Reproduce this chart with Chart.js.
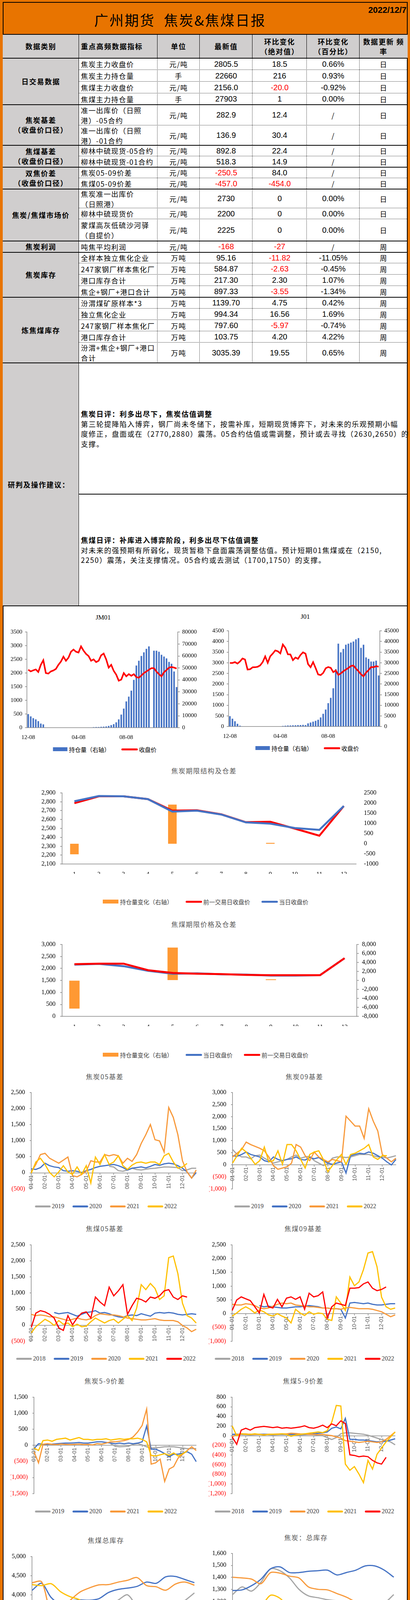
<!DOCTYPE html>
<html><head><meta charset="utf-8">
<script src="https://cdn.jsdelivr.net/npm/chart.js@4.4.1/dist/chart.umd.min.js"></script>
<style>
html,body{margin:0;padding:0;background:#fff;}
#page{position:relative;width:1049px;height:4562px;background:#E87400;overflow:hidden;}
#page div{box-sizing:border-box;}
</style></head><body><div id="page"></div>
<script>
// ================= DATA =================
const reportDate = '2022/12/7';
const indicators = ['焦炭主力收盘价','焦炭主力持仓量','焦煤主力收盘价','焦煤主力持仓量','准一出库价（日照<br>港）-05合约','准一出库价（日照<br>港）-01合约','柳林中硫现货-05合约','柳林中硫现货-01合约','焦炭05-09价差','焦煤05-09价差','焦炭准一出库价<br>（日照港）','柳林中硫现货价','蒙煤高灰低硫沙河驿<br>（自提价）','吨焦平均利润','全样本独立焦化企业','247家钢厂样本焦化厂','港口库存合计','焦企+钢厂+港口合计','汾渭煤矿原样本*3','独立焦化企业','247家钢厂样本焦化厂','港口库存合计','汾渭+焦企+钢厂+港口<br>合计'];
const units = ['元/吨','手','元/吨','手','元/吨','元/吨','元/吨','元/吨','元/吨','元/吨','元/吨','元/吨','元/吨','元/吨','万吨','万吨','万吨','万吨','万吨','万吨','万吨','万吨','万吨'];
const latest = ['2805.5','22660','2156.0','27903','282.9','136.9','892.8','518.3','-250.5','-457.0','2730','2200','2225','-168','95.16','584.87','217.30','897.33','1139.70','994.34','797.60','103.75','3035.39'];
const absChange = ['18.5','216','-20.0','1','12.4','30.4','22.4','14.9','84.0','-454.0','0','0','0','-27','-11.82','-2.63','2.30','-3.55','4.75','16.56','-5.97','4.20','19.55'];
const pctChange = ['0.66%','0.93%','-0.92%','0.00%','/','/','/','/','/','/','0.00%','0.00%','0.00%','/','-11.05%','-0.45%','1.07%','-1.34%','0.42%','1.69%','-0.74%','4.22%','0.65%'];
const freqs = ['日','日','日','日','日','日','日','日','日','日','日','日','日','周','周','周','周','周','周','周','周','周','周'];
const groupNames = ['日交易数据','焦炭基差<br>（收盘价口径）','焦煤基差<br>（收盘价口径）','双焦价差<br>（收盘价口径）','焦炭/焦煤市场价','焦炭利润','焦炭库存','炼焦煤库存'];
const groupRows = [[0,4],[4,6],[6,8],[8,10],[10,13],[13,14],[14,18],[18,23]];

// JM01 / J01 (left axis price, right axis open interest)
const jmTickLabels = {0:'12-08',20:'04-08',39:'08-08'};
const jm01Price = [2119,2060,2100,2133,2040,2300,2470,2000,1980,2060, 2095,2150,2300,2420,2600,2450,2560,2780,2860,2780, 2750,2976,2820,2700,2620,2450,2500,2400,2450,2650, 2714,2500,2200,2300,2080,1940,1720,1760,2000,1880, 1960,1900,1960,1850,1830,1910,2000,2060,2120,2180, 2180,2050,1960,1880,2030,2110,2200,2220,2200,2167];
const jm01OI = [11400,9500,8000,7000,5500,3500,2800,0,0,0, 0,0,0,0,0,0,0,0,0,0, 0,0,0,0,300,300,500,600,600,800, 900,1100,1500,2200,3000,4500,7000,11000,16000,22000, 26000,31000,40000,52000,56000,60000,63000,66000,68000,0, 64400,64400,63500,61000,59500,58000,55000,53500,47000,34000];
const j01Price = [2988,2990,3030,2960,3060,3200,3150,2680,2694,2786, 2790,2810,2877,3030,3300,3000,3306,3430,3580,3540, 3440,3857,3700,3398,3390,3122,3245,3184,3367,3490, 3428,2939,2790,3030,2750,2450,2420,2520,2740,2800, 2760,2560,2640,2430,2500,2600,2680,2755,2847,2870, 2724,2600,2460,2360,2540,2650,2800,2790,2840,2816];
const j01OI = [4900,3700,2500,1300,400,100,0,0,0,0, 0,0,0,0,0,0,0,0,0,0, 0,300,400,500,500,600,600,700,700,800, 700,1500,1900,2300,2700,3200,4300,6000,8000,11000, 13500,18000,27000,39000,34900,36500,38500,39000,39500,40000, 41000,41600,37000,38500,32500,31800,30600,30600,31000,24000];

// Term structure (contract month 1..12)
const termMonths = ['1','2','3','4','5','6','7','8','9','10','11','12'];
const cokePrev = [2784,2861,2861,2829,2700,2704,2658,2570,2575,2498,2418,2752];
const cokeCurr = [2805,2864,2861,2829,2689,2700,2656,2568,2554,2505,2484,2752];
const cokeOIChg = [-520,0,0,0,1920,0,0,0,40,0,0,0];
const coalCurr = [2156,2187,2092,1898,1778,1793,1751,1741,1699,1699,1715,2423];
const coalPrev = [2176,2197,2197,1925,1809,1778,1760,1730,1715,1715,1715,2423];
const coalOIChg = [-6270,0,0,0,7300,0,0,0,250,0,0,0];

// Seasonal daily charts: points on the 1st, 10th, 20th of each month + 12-31
const monthTicks = ['01-01','02-01','03-01','04-01','05-01','06-01','07-01','08-01','09-01','10-01','11-01','12-01'];
const N=null;
const c05_2019 = [N,N,N,N,N,N,N,N,N,N,N,N,N,N,N,N,N, 200,180,65,46, 85,140,100, 85,110,130, 140,160,180, 180,170,160, 65,90,140, 140];
const c05_2020 = [123,104,160, 297,220,181, 162,65,46, 65,46,8, 65,104,162, 200,220,239, 258,220,162, 85,143,162, 181,150,200, 258,230,277, 297,277,220, 143,27,-166, 8];
const c05_2021 = [27,258,566, 605,451,374, 297,393,489, -89,-127,-50, 46,374,335, 335,566,528, 566,528,297, 451,354,566, 913,1183,1500, 1029,990,643, 2031,1722,1183, 374,27,-166, 85];
const c05_2022 = [-12,335,451, 258,8,-127, 27,220,27, -50,181,-50, 220,-320,489, 258,566,258, 335,528,220, 104,239,316, 335,297,335, 335,258,528, 605,335,143, 181,290,N, N];

const c09_2019 = [631,426,323, 323,246,374, 400,272,169, 67,118,170, 220,323,400, 272,323,349, 169,67,-36, 41,272,323, 323,300,323, 374,426,426, 426,374,323, 323,280,323, 374];
const c09_2020 = [374,349,426, 528,426,374, 323,169,118, 323,220,169, 220,246,323, 220,195,297, 246,300,169, 67,15,67, 118,-344,374, 426,477,451, 528,477,374, 272,118,-10, 220];
const c09_2021 = [323,477,631, 938,836,759, 682,579,323, -36,-190,-138, -87,67,836, 733,374,169, 528,320,220, 118,220,169, 118,2015,1810, 1605,1605,1092, 2323,1810,1400, 426,272,118, 272];
const c09_2022 = [67,374,682, 528,272,15, 169,733,118, 169,579,15, 836,836,579, 220,-138,426, 528,579,220, -292,-36,220, 426,15,426, 477,579,682, 836,323,220, 374,374,N, N];

const m05_2018 = [];
const m05_2019 = [N,N,N, N,N,392, 354,373,392, 335,277,335, 392,412,450, 373,392,354, 296,258,238, 296,315,296, 354,315,277, 373,392,373, 392,373,335, 315,335,354, 335];
const m05_2020 = [335,296,315, 296,258,258, 219,181,142, 181,219,181, 162,200,296, 354,335,315, 315,296,258, 219,200,181, 162,162,181, 200,162,142, 142,142,104, -12,-88,-204, -127];
const m05_2021 = [-242,-50,65, 181,104,-12, 142,27,65, -50,27,-50, -31,104,219, 142,65,142, 181,65,181, 296,142,527, 1258,1104,1296, 1142,796,911, 2100,2150,1600, 681,296,219, 65];
const m05_2022 = [-69,373,450, 412,335,219, -88,-165,296, 8,219,373, 412,219,873, 719,604,1181, 911,1065,1258, 335,604,835, 796,719,873, 835,911,1065, 1104,873,796, 911,873,N, N];

const m09_2018 = [];
const m09_2019 = [N,N,N, N,N,N, 293,248,270, 248,225,203, 203,225,248, 248,270,293, 270,250,203, 203,180,180, 158,-158,383, 405,383,360, 383,338,315, 315,338,360, 360];
const m09_2020 = [338,315,315, 360,338,293, 203,180,203, 270,338,383, 360,383,315, 293,270,248, 248,225,203, 203,180,180, 158,203,225, 203,180,180, 180,158,113, 68,-23,-113, -45];
const m09_2021 = [-90,23,158, 248,158,23, 135,68,-45, -90,0,-90, -158,-338,158, 23,-68,68, -23,23,0, -203,-248,608, 383,113,1328, 1013,1148,1598, 2200,2250,1700, 600,248,158, 203];
const m09_2022 = [113,495,608, 540,473,248, 23,698,248, 203,518,248, 563,608,518, 608,158,743, 608,653,788, -158,248,383, 338,293,923, 923,945,1080, 1148,923,833, 878,968,N, N];

const s59c_2019 = [N,N,N,N,N,N,N,N,N,N,N,N,N,N,N,N,N, 50, -27,-46,-38, -27,31,50, 12,-46,-85, -77,-65,-46, -46,-46,-65, -85,-104,-104, -104];
const s59c_2020 = [-104,50,31, 31,38,50, 62,69,69, 77,88,69, 69,88,108, 108,88,69, 50,69,50, 69,50,69, 108,600,-123, -123,-181,-258, -354,-277,-277, -238,-200,-277, -508];
const s59c_2021 = [-200,-546,31, 50,31,23, 38,31,23, 31,38,23, 31,12,50, 38,69,108, 108,127,146, 185,262,415, 620,1127,-585, -546,-431,-1123, -738,-662,-392, -277,-162,-46, -162];
const s59c_2022 = [-85,-162,146, 165,127,185, 204,223,165, 204,242,185, 185,165,185, 185,204,165, 185,204,185, 204,204,223, 185,108,-315, -335,-296,-258, -315,-238,-335, -258,-181,N, N];

const s59m_2018 = [20,30,25, 20,15,20, 25,30,20, 15,20,25, 20,15,10, 15,20,25, 20,10,0, -40,-80,-40, 40,60,60, 50,40,30, 10,-20,-50, -80,-100,-130, -190];
const s59m_2019 = [26,30,30, 26,30,30, 26,30,26, 30,26,30, 26,30,26, 30,26,30, 40,50,60, 77,154,180, 141,359,-77, -77,-90,-90, -103,-115,-128, -128,-115,-90, -64];
const s59m_2020 = [-26,26,38, 38,26,31, 26,20,26, 31,36,38, 38,51,45, 38,36,26, 26,20,26, 13,0,-26, -51,-103,-115, -128,-141,-128, -115,-128,-141, -128,-77,0, 77];
const s59m_2021 = [205,0,38, 26,26,38, 26,13,26, 31,26,38, 26,-13,13, 26,38,51, 64,77,64, 103,282,628, 615,-590,-718, -641,-795,-974, -513,-692,-385, -256,-128,-26, 77];
const s59m_2022 = [-26,-179,115, 154,115,167, 180,192,180, 167,180,154, 167,154,167, 180,205,167, 154,180,218, 167,244,205, 308,250,-397, -410,-436,-423, -436,-513,-564, -590,-449,N, N];

// Weekly inventory charts (weeks 1,4,...,52)
const weekSample = [1,4,7,10,13,16,19,22,25,28,31,34,37,40,43,46,49,52];
const coalInv2018 = [3583,3767,3633,3420,3650,3667,3700,3600,3733,3860,4000,3700,3583,3640,3660,3680,3850,4050];
const coalInv2019 = [4117,4300,3930,3760,3840,3867,3860,3900,4060,4140,4175,4220,4333,4300,4470,4480,4400,4317];
const coalInv2020 = [4317,4340,3550,3620,3860,4070,4180,4260,4267,4330,4380,4450,4240,4210,4120,4280,4333,4250];
const coalInv2021 = [4267,4240,4290,4080,3950,3867,3633,3600,3700,3420,3300,3060,3000,3167,3300,3550,3500,3433];
const coalInv2022 = [3500,3480,3533,2920,2850,2780,2950,2900,2920,3000,3217,3200,3090,3100,2960,3010,3030,N];
const cokeInv2018 = [1256,1320,1285,1360,1470,1455,1395,1300,1245,1230,1213,1205,1200,1180,1160,1165,1185,1256];
const cokeInv2019 = [1290,1295,1330,1385,1471,1487,1440,1440,1450,1455,1460,1420,1440,1460,1495,1495,1460,1401];
const cokeInv2020 = [1401,1395,1385,1347,1439,1435,1410,1395,1320,1300,1295,1265,1235,1195,1175,1170,1170,1111];
const cokeInv2021 = [1111,1050,1070,1150,1250,1225,1140,1055,1050,1030,985,941,930,970,975,1015,980,976];
const cokeInv2022 = [1009,1025,1092,1080,1057,1055,1007,1012,966,944,966,966,1010,1035,970,937,900,N];

// ================= LAYOUT / STYLE =================
const page = document.getElementById('page');
const CJK = '"Noto Sans CJK SC","Noto Sans",sans-serif';
const MIX = '"Liberation Sans Narrow","Noto Sans CJK SC",sans-serif';
const NUM = '"Liberation Sans",Arial,sans-serif';
const SERIF = '"Liberation Serif","Times New Roman",serif';
const SANS = '"Liberation Sans",Arial,sans-serif';
const AX = '#868686';
const C = {gray:'#A5A5A5', blue:'#4472C4', orange:'#F8993A', gold:'#FFC000', red:'#FF0000', bar:'#FF9933'};

function div(x,y,w,h,css,html){const d=document.createElement('div');d.style.cssText=`position:absolute;left:${x}px;top:${y}px;width:${w}px;height:${h}px;${css||''}`;if(html!=null)d.innerHTML=html;page.appendChild(d);return d;}
function hline(x1,x2,y,st){div(x1,y-1,x2-x1,2,`border-top:${st||'2px solid #000'}`);}
function vline(x,y1,y2,st){div(x-1,y1,2,y2-y1,`border-left:${st||'1.5px solid #000'}`);}
function cell(x1,x2,y1,y2,html,css,just){div(x1,y1,x2-x1,y2-y1,`display:flex;align-items:center;justify-content:${just||'center'};text-align:${just==='flex-start'?'left':'center'};white-space:nowrap;${css||''}`,html);}

// frame
div(7,5,1036,4551,'background:#fff;border:2px solid #000');
div(7,5,1036,84,'background:#E87400;border:2px solid #000');
div(241,27,560,46,`font:36px ${CJK};letter-spacing:3px;line-height:46px;color:#000;white-space:nowrap`,'广州期货&nbsp;&nbsp;焦炭&amp;焦煤日报');
div(880,13,160,26,`font:bold 22px ${NUM};line-height:26px;text-align:right;color:#000`,reportDate);

// table backgrounds
div(7,88,1036,61,'background:#D0CECE');
div(7,149,195,1402,'background:#D0CECE');

const rowEdges=[149,179,209,239,268,321,372,400,428,456,484,533,561,617,646,674,703,732,761,790,819,848,877,929];
const colX=[7,202,403,511,646,785,920,1043];
const groupEdgeIdx = new Set([0,4,6,8,10,13,14,18,23]);
hline(7,1043,88);
rowEdges.forEach((y,i)=>{ if(groupEdgeIdx.has(i)) hline(7,1043,y); else hline(202,1043,y,'1px dotted #000'); });
hline(7,1043,1551); hline(202,1043,1265);
vline(202,88,1551);
for(let k=2;k<7;k++){ vline(colX[k],88,149,'1px solid #000'); vline(colX[k],149,929,'1px dotted #000'); }

const HB = `font:bold 18px ${CJK};letter-spacing:1.8px;line-height:25px;color:#000`;
cell(7,202,88,149,'数据类别',HB);
cell(202,403,88,149,'重点高频数据指标',HB+';padding-left:5px','flex-start');
cell(403,511,88,149,'单位',HB);
cell(511,646,88,149,'最新值',HB);
cell(646,785,88,149,'环比变化<br>（绝对值）',HB);
cell(785,920,88,149,'环比变化<br>（百分比）',HB);
cell(920,1043,88,149,'数据更新&nbsp;频<br>率',HB);

const TB = `font:18px ${MIX};letter-spacing:1.4px;line-height:26px;color:#000`;
const TN = `font:20px ${NUM};color:#000`;
for(let i=0;i<indicators.length;i++){
  const y1=rowEdges[i], y2=rowEdges[i+1];
  cell(202,403,y1,y2,indicators[i],TB+';padding-left:5px','flex-start');
  cell(403,511,y1,y2,units[i],TB);
  cell(511,646,y1,y2,latest[i],TN+(latest[i].startsWith('-')?';color:#FF0000':''));
  cell(646,785,y1,y2,absChange[i],TN+(absChange[i].startsWith('-')?';color:#FF0000':''));
  cell(785,920,y1,y2,pctChange[i],pctChange[i]==='/'?TB:TN);
  cell(920,1043,y1,y2,freqs[i],TB);
}
groupNames.forEach((g,k)=>{ cell(7,202,rowEdges[groupRows[k][0]],rowEdges[groupRows[k][1]],g,HB+';line-height:25px'); });
cell(7,202,929,1551,'研判及操作建议：',HB+';padding-left:13px','flex-start');

const CM = `font:18px ${MIX};letter-spacing:1.8px;line-height:25.6px;white-space:nowrap;color:#000`;
div(207,1047,830,110,CM,'<b>焦炭日评：利多出尽下，焦炭估值调整</b><br>第三轮提降陷入博弈，钢厂尚未冬储下，按需补库，短期现货博弈下，对未来的乐观预期小幅<br>度修正，盘面或在（2770,2880）震荡。05合约估值或需调整，预计或去寻找（2630,2650）的<br>支撑。');
div(207,1370,830,90,CM,'<b>焦煤日评：补库进入博弈阶段，利多出尽下估值调整</b><br>对未来的强预期有所弱化，现货暂稳下盘面震荡调整估值。预计短期01焦煤或在（2150,<br>2250）震荡，关注支撑情况。05合约或去测试（1700,1750）的支撑。');

hline(7,1043,4323); hline(7,1043,4441);
div(12,4344,1030,80,`font:bold 19px ${MIX};letter-spacing:2.8px;line-height:25.5px;white-space:nowrap;color:#000`,'免责声明：本报告的信息均来源于公开资料，我公司对这些信息的准确性和完整性不作任何保证，也不保证所包<br>含的信息和建议不会发生任何变更。我们已力求报告内容的客观、公正，但文中的观点、结论和建议仅供参考，<br>报告中的信息或意见并不构成所述品种的操作依据，投资者据此做出的任何投资决策与本公司和作者无关。');
div(12,4447,1030,110,`font:18px ${MIX};letter-spacing:1.6px;line-height:26px;white-space:nowrap;color:#000`,'投资咨询业务资格：证监许可【2012】1497号<br>分析师：许克元 期货从业资格：F3022666&nbsp;&nbsp; 投资咨询资格：Z0013612<br>联系人：吴宇祥 期货从业资格：F03087345<br>联系方式：020-22139859 020-22139817');

// ================= CHART HELPERS =================
function title(cx,cy,text,css){div(cx-200,cy-13,400,26,`text-align:center;line-height:26px;white-space:nowrap;${css}`,text);}
function legend(cx,cy,items){
  const d=document.createElement('div');
  d.style.cssText=`position:absolute;left:${cx}px;top:${cy-12}px;height:24px;transform:translateX(-50%);display:flex;align-items:center;white-space:nowrap;`;
  items.forEach((it,k)=>{
    const sw=document.createElement('span');
    sw.style.cssText = it.box ? `display:inline-block;width:${it.w||38}px;height:10px;background:${it.color};margin-right:4px;` : `display:inline-block;width:${it.w||40}px;height:5px;border-radius:3px;background:${it.color};margin-right:3px;`;
    const t=document.createElement('span'); t.innerHTML=it.text;
    t.style.cssText=`font:${it.font};color:${it.tc||'#404040'};margin-right:${k<items.length-1?(it.gap||21):0}px;`;
    d.append(sw,t);
  });
  page.appendChild(d);
}
function mkChart(box,plot,ax,type,data,scales){
  const c=document.createElement('canvas'); c.width=box.w; c.height=box.h;
  c.style.cssText=`position:absolute;left:${box.x}px;top:${box.y}px;width:${box.w}px;height:${box.h}px;`;
  page.appendChild(c);
  const L=ax.L||0,R=ax.R||0,B=ax.B||0;
  return new Chart(c,{type,data,options:{responsive:false,maintainAspectRatio:false,animation:false,
    layout:{padding:{left:plot.l-box.x-L,right:box.x+box.w-plot.r-R,top:plot.t-box.y,bottom:box.y+box.h-plot.b-B}},
    plugins:{legend:{display:false},tooltip:{enabled:false}},scales}});
}
const fmtC = v => v<0 ? '('+Math.abs(v).toLocaleString('en-US')+')' : v.toLocaleString('en-US');
function leftY(min,max,step,L,opt){opt=opt||{};return {position:'left',min,max,afterFit:s=>{s.width=L;},
  ticks:{stepSize:step,autoSkip:false,font:{family:SERIF,size:opt.fs||16},color:opt.color||'#000',padding:opt.pad||10,callback:opt.cb||(v=>v.toLocaleString('en-US'))},
  grid:{drawOnChartArea:false,drawTicks:true,tickLength:opt.tl==null?5:opt.tl,color:AX,lineWidth:1.5},border:{display:true,color:AX,width:1.5}};}
function rightY(min,max,step,R,opt){opt=opt||{};return {position:'right',min,max,afterFit:s=>{s.width=R;},
  ticks:{stepSize:step,autoSkip:false,font:{family:SERIF,size:opt.fs||16},color:'#000',padding:opt.pad||8,callback:opt.cb||(v=>String(v))},
  grid:{display:opt.noLine?false:true,drawOnChartArea:false,drawTicks:true,tickLength:5,color:AX,lineWidth:1.5},border:{display:!opt.noLine,color:AX,width:1.5}};}
const line=(label,data,color,w,order)=>({type:'line',label,data,borderColor:color,backgroundColor:color,borderWidth:w,pointRadius:0,tension:0,fill:false,order:order||1,yAxisID:'y'});

// ---------- JM01 / J01 ----------
function oiChart(box,plot,price,oi,pMax,pStep,oMax,oStep){
  const labels = price.map((_,i)=>jmTickLabels[i]||'');
  mkChart(box,plot,{L:50,R:55,B:30},'bar',{labels,datasets:[
    line('收盘价',price,C.red,4,1),
    {type:'bar',label:'持仓量（右轴）',data:oi,backgroundColor:C.blue,yAxisID:'y1',barPercentage:0.62,categoryPercentage:1,order:2}
  ]},{
    x:{afterFit:s=>{s.height=30;},ticks:{autoSkip:false,maxRotation:0,minRotation:0,font:{family:SERIF,size:15},color:'#000',padding:8,callback:(v,i)=>labels[i]||null},grid:{display:false},border:{display:true,color:AX,width:1.5}},
    y:leftY(0,pMax,pStep,50,{fs:15,pad:7,cb:v=>String(v)}),
    y1:rightY(0,oMax,oStep,55,{fs:15,pad:6})
  });
}
title(264,1584,'JM01',`font:17px ${SERIF};color:#000`);
title(781,1582,'J01',`font:17px ${SERIF};color:#000`);
oiChart({x:10,y:1600,w:505,h:300},{l:69,r:455,t:1618,b:1863},jm01Price,jm01OI,3500,500,80000,10000);
oiChart({x:526,y:1597,w:505,h:300},{l:585,r:972,t:1615,b:1860},j01Price,j01OI,4500,500,45000,5000);
const LF15=`15px ${CJK}`;
legend(268,1918,[{box:true,color:C.blue,w:37,text:'持仓量（右轴）',font:LF15,tc:'#000',gap:29},{color:C.red,w:42,text:'收盘价',font:LF15,tc:'#000'}]);
legend(786,1915,[{box:true,color:C.blue,w:37,text:'持仓量（右轴）',font:LF15,tc:'#000',gap:29},{color:C.red,w:42,text:'收盘价',font:LF15,tc:'#000'}]);

// ---------- Term structure ----------
const TT=`font:17px ${CJK};letter-spacing:1.6px;color:#595959`;
title(522,1973,'焦炭期限结构及仓差',TT);
mkChart({x:60,y:2005,w:940,h:240},{l:159,r:911,t:2021,b:2212},{L:60,R:60,B:25},'bar',{labels:termMonths,datasets:[
  line('当日收盘价',cokeCurr,C.blue,5,1),
  line('前一交易日收盘价',cokePrev,C.red,5,2),
  {type:'bar',label:'持仓量变化（右轴）',data:cokeOIChg,backgroundColor:C.bar,yAxisID:'y1',barPercentage:0.35,categoryPercentage:1,order:3}
]},{
  x:{afterFit:s=>{s.height=25;},offset:true,ticks:{maxRotation:0,minRotation:0,autoSkip:false,font:{family:SERIF,size:16},color:'#000',padding:9},grid:{display:false},border:{display:true,color:AX,width:1.5}},
  y:leftY(2100,2900,100,60,{pad:12}),
  y1:rightY(-1000,2500,500,60,{noLine:true,pad:15})
});
legend(526,2308,[{box:true,color:C.bar,w:40,text:'持仓量变化（右轴）',font:LF15,gap:33},{color:C.red,w:42,text:'前一交易日收盘价',font:LF15,gap:29},{color:C.blue,w:42,text:'当日收盘价',font:LF15}]);

title(522,2366,'焦煤期限价格及仓差',TT);
mkChart({x:60,y:2396,w:940,h:235},{l:159,r:913,t:2412,b:2602},{L:60,R:60,B:25},'bar',{labels:termMonths,datasets:[
  line('前一交易日收盘价',coalPrev,C.red,5,1),
  line('当日收盘价',coalCurr,C.blue,5,2),
  {type:'bar',label:'持仓量变化（右轴）',data:coalOIChg,backgroundColor:C.bar,yAxisID:'y1',barPercentage:0.42,categoryPercentage:1,order:3}
]},{
  x:{afterFit:s=>{s.height=25;},offset:true,ticks:{maxRotation:0,minRotation:0,autoSkip:false,font:{family:SERIF,size:16},color:'#000',padding:10},grid:{display:false},border:{display:true,color:AX,width:1.5}},
  y:leftY(0,3000,500,60,{pad:12}),
  y1:rightY(-8000,8000,2000,60,{pad:8,cb:v=>v.toLocaleString('en-US')})
});
legend(526,2700,[{box:true,color:C.bar,w:40,text:'持仓量变化（右轴）',font:LF15,gap:33},{color:C.blue,w:42,text:'当日收盘价',font:LF15,gap:29},{color:C.red,w:42,text:'前一交易日收盘价',font:LF15}]);

// ---------- Seasonal daily charts ----------
const dayLabels = new Array(37).fill('');
monthTicks.forEach((m,k)=>{dayLabels[3*k]=m;});
function seasonal(box,plot,min,max,step,series){
  mkChart(box,plot,{L:60},'line',{labels:dayLabels,datasets:series.map((s,k)=>({label:s[0],data:s[1],borderColor:s[2],borderWidth:3,pointRadius:0,tension:0,fill:false,order:series.length-k}))},{
    x:{type:'category',position:{y:0},offset:false,ticks:{autoSkip:false,maxRotation:90,minRotation:90,font:{family:SANS,size:14},color:'#595959',padding:2,callback:(v,i)=>dayLabels[i]||null},grid:{drawOnChartArea:false,tickLength:4,color:AX,lineWidth:1.5},border:{color:AX,width:1.5}},
    y:leftY(min,max,step,60,{pad:12,tl:4,cb:fmtC,color:c=>c.tick.value<0?'#FF0000':'#000'})
  });
}
const YF=`16px ${SERIF}`;
const leg4=(a)=>[{color:C.gray,text:a[0],font:YF},{color:C.blue,text:a[1],font:YF},{color:C.orange,text:a[2],font:YF},{color:C.gold,text:a[3],font:YF}];
const leg5=()=>[{color:C.gray,text:'2018',font:YF},{color:C.blue,text:'2019',font:YF},{color:C.orange,text:'2020',font:YF},{color:C.gold,text:'2021',font:YF},{color:C.red,text:'2022',font:YF}];

title(268,2756,'焦炭05基差',TT);
seasonal({x:10,y:2775,w:505,h:290},{l:80,r:502,t:2793,b:3052},-500,2500,500,[['2019',c05_2019,C.gray],['2020',c05_2020,C.blue],['2021',c05_2021,C.orange],['2022',c05_2022,C.gold]]);
legend(271,3088,leg4(['2019','2020','2021','2022']));
title(779,2756,'焦炭09基差',TT);
seasonal({x:525,y:2775,w:500,h:290},{l:595,r:1013,t:2793,b:3052},-1000,3000,500,[['2019',c09_2019,C.gray],['2020',c09_2020,C.blue],['2021',c09_2021,C.orange],['2022',c09_2022,C.gold]]);
legend(781,3088,leg4(['2019','2020','2021','2022']));

title(268,3145,'焦煤05基差',TT);
seasonal({x:10,y:3165,w:505,h:290},{l:80,r:502,t:3183,b:3443},-500,2500,500,[['2018',m05_2018,C.gray],['2019',m05_2019,C.blue],['2020',m05_2020,C.orange],['2021',m05_2021,C.gold],['2022',m05_2022,C.red]]);
legend(271,3478,leg5());
title(776,3145,'焦煤09基差',TT);
seasonal({x:525,y:3165,w:500,h:290},{l:594,r:1011,t:3183,b:3443},-1000,2500,500,[['2018',m09_2018,C.gray],['2019',m09_2019,C.blue],['2020',m09_2020,C.orange],['2021',m09_2021,C.gold],['2022',m09_2022,C.red]]);
legend(779,3478,leg5());

title(268,3535,'焦炭5-9价差',TT);
seasonal({x:10,y:3555,w:505,h:290},{l:87,r:502,t:3573,b:3833},-1500,1500,500,[['2019',s59c_2019,C.gray],['2020',s59c_2020,C.blue],['2021',s59c_2021,C.orange],['2022',s59c_2022,C.gold]]);
legend(271,3869,leg4(['2019','2020','2021','2022']));
title(776,3535,'焦煤5-9价差',TT);
seasonal({x:525,y:3555,w:500,h:290},{l:594,r:1011,t:3573,b:3833},-1200,800,200,[['2018',s59m_2018,C.gray],['2019',s59m_2019,C.blue],['2020',s59m_2020,C.orange],['2021',s59m_2021,C.gold],['2022',s59m_2022,C.red]]);
legend(779,3869,leg5());

// ---------- Weekly inventory ----------
const weekLabels = Array.from({length:52},(_,i)=>String(i+1));
const wk = arr => arr.map((v,i)=>({x:String(weekSample[i]),y:v}));
function weekly(box,plot,min,max,step,series){
  mkChart(box,plot,{L:60,B:25},'line',{labels:weekLabels,datasets:series.map((s,k)=>({label:s[0],data:wk(s[1]),borderColor:s[2],borderWidth:3,pointRadius:0,tension:0.3,fill:false,order:series.length-k}))},{
    x:{type:'category',offset:false,afterFit:s=>{s.height=25;},ticks:{autoSkip:false,maxRotation:90,minRotation:90,font:{family:SANS,size:13},color:'#404040',padding:2,callback:(v,i)=>(i%3===0?weekLabels[i]:null)},grid:{drawOnChartArea:false,tickLength:4,color:AX,lineWidth:1.5},border:{color:AX,width:1.5}},
    y:leftY(min,max,step,60,{pad:12,tl:4})
  });
}
title(271,3943,'焦煤总库存',TT);
weekly({x:10,y:3963,w:505,h:300},{l:82,r:502,t:3981,b:4230},2500,5000,500,[['2018',coalInv2018,C.gray],['2019',coalInv2019,C.blue],['2020',coalInv2020,C.orange],['2021',coalInv2021,C.gold],['2022',coalInv2022,C.red]]);
legend(273,4277,leg5());
title(783,3936,'焦炭：总库存',TT);
weekly({x:525,y:3955,w:500,h:300},{l:595,r:1015,t:3973,b:4222},800,1600,100,[['2018',cokeInv2018,C.gray],['2019',cokeInv2019,C.blue],['2020',cokeInv2020,C.orange],['2021',cokeInv2021,C.gold],['2022',cokeInv2022,C.red]]);
legend(785,4269,leg5());
</script></body></html>
